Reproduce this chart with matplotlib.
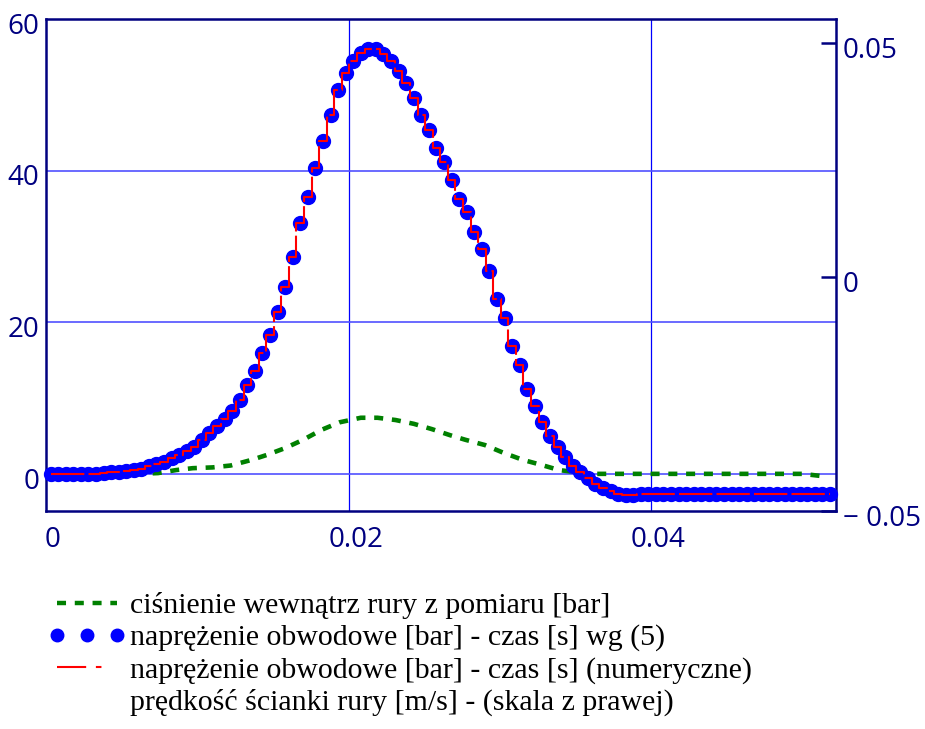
import matplotlib
matplotlib.use('Agg')
import matplotlib.pyplot as plt
import matplotlib.transforms as mtransforms
from matplotlib.lines import Line2D
from matplotlib.ticker import FixedLocator, FixedFormatter

# naprezenie obwodowe wg (5) - punkty [s], [bar]
t_dots = [0.0003, 0.0008, 0.0013, 0.0018, 0.0023, 0.0028, 0.0033, 0.0038, 0.0043, 0.0048,
          0.0053, 0.0058, 0.0063, 0.0068, 0.0073, 0.0078, 0.0083, 0.0088, 0.0093, 0.0098,
          0.0103, 0.0108, 0.0113, 0.0118, 0.0123, 0.0128, 0.0133, 0.0138, 0.0143, 0.0148,
          0.0153, 0.0158, 0.0163, 0.0168, 0.0173, 0.0178, 0.0183, 0.0188, 0.0193, 0.0198,
          0.0203, 0.0208, 0.0213, 0.0218, 0.0223, 0.0228, 0.0233, 0.0238, 0.0243, 0.0248,
          0.0253, 0.0258, 0.0263, 0.0268, 0.0273, 0.0278, 0.0283, 0.0288, 0.0293, 0.0298,
          0.0303, 0.0308, 0.0313, 0.0318, 0.0323, 0.0328, 0.0333, 0.0338, 0.0343, 0.0348,
          0.0353, 0.0358, 0.0363, 0.0368, 0.0373, 0.0378, 0.0383, 0.0388, 0.0393, 0.0398,
          0.0403, 0.0408, 0.0413, 0.0418, 0.0423, 0.0428, 0.0433, 0.0438, 0.0443, 0.0448,
          0.0453, 0.0458, 0.0463, 0.0468, 0.0473, 0.0478, 0.0483, 0.0488, 0.0493, 0.0498,
          0.0503, 0.0508, 0.0513, 0.0518]
stress_dots = [0.0, 0.0, 0.0, 0.0, 0.0, 0.0, 0.0, 0.1, 0.2, 0.3,
               0.4, 0.55, 0.7, 1.0, 1.3, 1.6, 2.1, 2.5, 3.0, 3.6,
               4.5, 5.4, 6.3, 7.3, 8.3, 9.7, 11.7, 13.6, 15.9, 18.3,
               21.4, 24.6, 28.6, 33.1, 36.5, 40.3, 43.9, 47.3, 50.7, 52.9,
               54.4, 55.5, 56.1, 56.0, 55.4, 54.4, 53.1, 51.5, 49.6, 47.3,
               45.3, 43.0, 41.1, 38.8, 36.2, 34.5, 31.9, 29.6, 26.8, 23.0,
               20.5, 16.9, 14.3, 11.2, 9.0, 6.8, 5.0, 3.6, 2.2, 1.1,
               0.2, -0.6, -1.3, -1.9, -2.3, -2.6, -2.8, -2.8, -2.7, -2.6,
               -2.6, -2.6, -2.6, -2.6, -2.6, -2.6, -2.7, -2.7, -2.7, -2.7,
               -2.7, -2.7, -2.7, -2.7, -2.7, -2.7, -2.7, -2.7, -2.7, -2.7,
               -2.7, -2.7, -2.7, -2.7]

# naprezenie numeryczne (prawie to samo co wg (5))
t_num = t_dots
stress_num = stress_dots

# cisnienie z pomiaru [bar]
t_press = [0.0, 0.006, 0.0074, 0.0086, 0.0097, 0.0110, 0.0122, 0.0136, 0.0146, 0.0158,
           0.0170, 0.0182, 0.0194, 0.0208, 0.0219, 0.0231, 0.0243, 0.0255, 0.0267, 0.0277,
           0.0290, 0.0302, 0.0315, 0.0327, 0.0339, 0.0351, 0.0360, 0.0400, 0.0450, 0.0500,
           0.0515]
press = [0.0, 0.0, 0.1, 0.5, 0.75, 0.85, 1.1, 1.85, 2.5, 3.4,
         4.5, 5.8, 6.8, 7.4, 7.4, 7.1, 6.6, 5.9, 5.1, 4.5,
         3.8, 2.8, 1.85, 1.2, 0.5, 0.2, 0.0, 0.0, 0.0, 0.0,
         -0.35]

navy = '#000080'
plt.rcParams['lines.scale_dashes'] = False
tick_font = {'family': 'Open Sans', 'size': 20}

fig = plt.figure(figsize=(9.25, 7.29), dpi=100)
ax = fig.add_axes([46/925, 1 - 511/729, 790/925, 492/729])

ax.plot(t_press, press, color='#008000', lw=3.3, dashes=(6.5, 6.3), zorder=3)
ax.plot(t_dots, stress_dots, ls='none', marker='o', ms=10, color='#0000ff', zorder=4, clip_on=False)
ax.plot(t_num, stress_num, color='#ff0000', lw=1.5, dashes=(24, 3), drawstyle='steps-mid', zorder=5)

ax.set_xlim(0, 0.0522)
ax.set_ylim(-4.9, 60)
ax.set_xticks([0, 0.02, 0.04])
ax.set_xticklabels(['0', '0.02', '0.04'], fontdict=tick_font)
ax.set_yticks([0, 20, 40, 60])
ax.set_yticklabels(['0', '20', '40', '60'], fontdict=tick_font)
ax.tick_params(axis='both', length=0, labelcolor=navy)
ax.tick_params(axis='x', pad=11)
ax.tick_params(axis='y', pad=5)

# etykiety jak w Mathcadzie - lekko przesuniete
shift_x = mtransforms.ScaledTranslation(5/72, 0, fig.dpi_scale_trans)
shift_y = mtransforms.ScaledTranslation(0, -3/72, fig.dpi_scale_trans)
for lab in ax.get_xticklabels():
    lab.set_transform(lab.get_transform() + shift_x)
for lab in ax.get_yticklabels():
    lab.set_transform(lab.get_transform() + shift_y)

ax.grid(False)
for x in [0.02, 0.04]:
    ax.axvline(x, color='#0000ff', lw=0.9, zorder=1)
for y in [0, 20, 40]:
    ax.axhline(y, color='#5050ff', lw=1.2, zorder=1)

for s in ax.spines.values():
    s.set_color(navy)
    s.set_linewidth(1.8)

# prawa skala - predkosc scianki rury [m/s]
ax2 = ax.twinx()
ax2.set_ylim(-0.0500, 0.0552)
ax2.yaxis.set_major_locator(FixedLocator([-0.05, 0, 0.05]))
ax2.yaxis.set_major_formatter(FixedFormatter(['\u2212 0.05', '0', '0.05']))
ax2.tick_params(axis='y', direction='in', length=11, width=1.8, color=navy,
                labelcolor=navy, pad=5)
for lab in ax2.get_yticklabels():
    lab.set_family('Open Sans')
    lab.set_size(20)
    lab.set_transform(lab.get_transform() + shift_y)
for s in ax2.spines.values():
    s.set_visible(False)

# legenda pod wykresem
h_green = Line2D([], [], color='#008000', lw=3.2, dashes=(6.5, 6.3))
h_blue = Line2D([], [], ls='none', marker='o', ms=9, color='#0000ff')
h_red = Line2D([], [], color='#ff0000', lw=1.5, dashes=(21, 7, 4, 30))
h_none = Line2D([], [], ls='none')
labels = ['ciśnienie wewnątrz rury z pomiaru [bar]',
          'naprężenie obwodowe [bar] - czas [s] wg (5)',
          'naprężenie obwodowe [bar] - czas [s] (numeryczne)',
          'prędkość ścianki rury [m/s] - (skala z prawej)']
fig.legend([h_green, h_blue, h_red, h_none], labels, loc='upper left',
           bbox_to_anchor=(48/925, 1 - 592/729), frameon=False, borderpad=0,
           borderaxespad=0, handlelength=2.6, handletextpad=0.13, labelspacing=0.17,
           numpoints=3, prop={'family': 'Liberation Serif', 'size': 21.5})

fig.savefig('out.png', dpi=100)
